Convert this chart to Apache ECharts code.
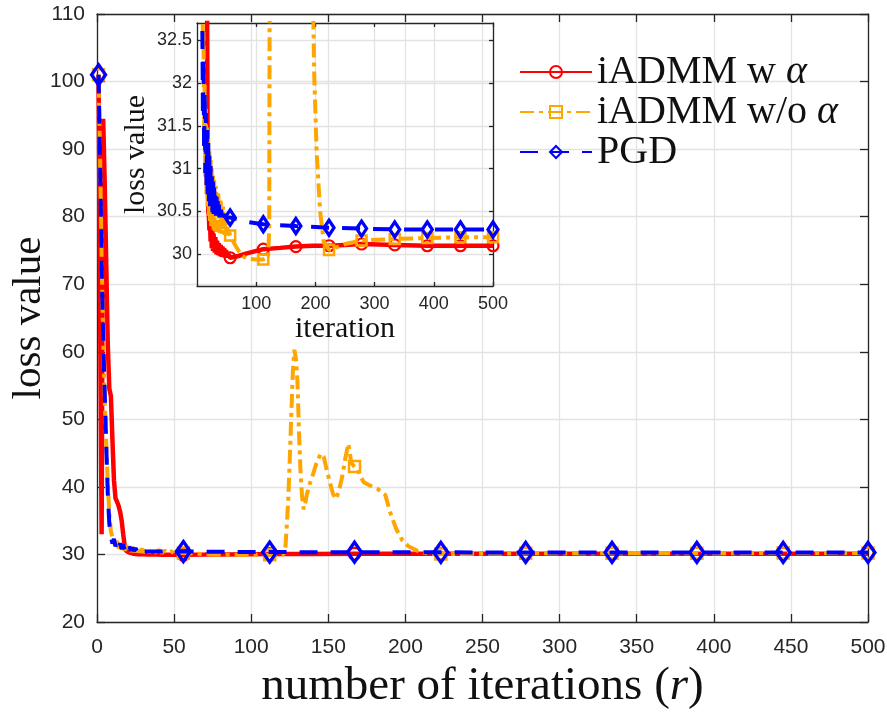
<!DOCTYPE html>
<html>
<head>
<meta charset="UTF-8">
<title>loss curves</title>
<script src="https://cdn.jsdelivr.net/npm/echarts@6/dist/echarts.min.js"></script>
<style>
  html, body { margin: 0; padding: 0; background: #fff; }
  #chart { width: 887px; height: 714px; }
</style>
</head>
<body>
<div id="chart"></div>
<script>
// values, [iteration, loss value]
var markIters = [1, 56, 112, 167, 223, 278, 334, 389, 445, 500];

var withAlpha = [
  [1,101],[3,33],[4,94.5],[5,85],[6,73],[7,61],[8,54.5],[9,53.5],[10,47],[11,41],
  [12,38.3],[13,37.8],[14,37.2],[15,36.3],[16,35],[17,33],[18,31.2],[19,30.5],
  [20,30.45],[21,30.28],[22,30.4],[23,30.15],[24,30.33],[25,30.07],[26,30.28],[27,30.04],
  [28,30.24],[30,30.02],[31,30.2],[33,30.0],[34,30.16],[36,29.99],[37,30.13],[39,29.98],
  [40,30.11],[42,29.97],[43,30.09],[45,29.97],[46,30.07],[48,29.96],[49,30.05],[51,29.96],
  [52,30.02],[56,29.96],[70,29.98],[84,30.01],[112,30.06],[140,30.075],[167,30.09],
  [195,30.1],[223,30.1],[250,30.11],[278,30.12],[334,30.11],[389,30.1],[445,30.1],[500,30.1]
];

var withoutAlpha = [
  [1,101],[2,89],[3,74],[4,62],[5,53],[6,46.5],[7,40.5],[8,36],[9,33.5],[10,32.4],
  [11,32.6],[12,31.3],[13,32.0],[14,30.9],[15,31.7],[16,30.7],[17,31.5],[18,30.55],
  [19,31.35],[20,30.45],[21,31.2],[22,30.38],[23,31.1],[24,30.33],[25,31.0],[26,30.3],
  [27,30.93],[28,30.28],[29,30.87],[30,30.27],[32,30.8],[34,30.26],[36,30.73],[38,30.25],
  [40,30.65],[42,30.24],[44,30.56],[46,30.23],[48,30.45],[50,30.22],[52,30.32],[56,30.22],
  [65,30.1],[75,29.99],[84,29.95],[100,29.94],[112,29.94],[120,29.96],
  [122,30.3],[123,34],[124,38],[125,44],[126,50.7],[127,57],[128,60.3],[129,59],[130,55.6],
  [131,48],[132,42.2],[133,38.5],[134,36.7],[135,37.5],[136,38.8],[138,40.5],[140,41.8],
  [142,43.3],[145,44.9],[147,44.5],[149,42.5],[151,40.7],[153,39],[155,38.2],[157,39.5],
  [159,41.5],[161,44.2],[163,46.4],[165,43.5],[167,43],[169,42.7],[171,41.5],[173,40.7],
  [177,40.2],[182,39.7],[187,38.8],[190,36.3],[194,33.8],[198,32.1],[202,31.2],[208,30.5],
  [214,30.15],[223,30.05],[250,30.12],[278,30.16],[334,30.18],[389,30.19],[445,30.2],[500,30.2]
];

var pgd = [
  [1,101],[2,88],[3,73],[4,62],[5,54],[6,46],[7,39],[8,34.5],[9,32.7],[10,31.6],
  [11,32.3],[12,31.2],[13,31.9],[14,30.95],[15,31.65],[16,30.8],[17,31.45],[18,30.7],
  [19,31.3],[20,30.62],[21,31.15],[22,30.56],[23,31.03],[24,30.52],[25,30.93],[26,30.49],
  [27,30.85],[28,30.47],[29,30.78],[30,30.46],[31,30.72],[32,30.45],[33,30.67],[34,30.44],
  [35,30.62],[36,30.44],[37,30.58],[38,30.43],[39,30.55],[40,30.43],[41,30.52],[42,30.43],
  [44,30.5],[46,30.43],[48,30.47],[50,30.43],[52,30.45],[56,30.43],[84,30.38],[112,30.35],
  [140,30.34],[167,30.33],[223,30.31],[278,30.3],[334,30.29],[389,30.29],[445,30.29],[500,30.29]
];

var mainYTicks = [20, 110, 10];     // min, max, step
var mainXTicks = [0, 500, 50];
var insetYTicks = [30, 30.5, 31, 31.5, 32, 32.5];
var insetXTicks = [100, 200, 300, 400, 500];

var names = ['iADMM w α', 'iADMM w/o α', 'PGD'];
var colors = ['#ff0000', '#ffa500', '#0000ff'];

var serif = '"Liberation Serif", "DejaVu Serif", serif';
var sans = '"Liberation Sans", Arial, sans-serif';
var axisCol = '#262626';
var gridCol = '#e3e3e3';

function withMarks(pts) {
  return pts.map(function (p) {
    return markIters.indexOf(p[0]) >= 0 ? { value: p } : { value: p, symbol: 'none' };
  });
}

var chart = echarts.init(document.getElementById('chart'));

function frameAxis(grid, pos, min, max, interval, len, custom) {
  var a = {
    gridIndex: grid, type: 'value', position: pos, min: min, max: max,
    axisLine: { show: true, onZero: false, lineStyle: { color: axisCol, width: 1.3 } },
    axisTick: { show: true, inside: true, length: len, lineStyle: { color: axisCol, width: 1.3 } },
    axisLabel: { show: false },
    splitLine: { show: false }
  };
  if (interval) a.interval = interval;
  if (custom) a.axisTick.customValues = custom;
  return a;
}

var xMain = frameAxis(0, 'bottom', mainXTicks[0], mainXTicks[1], mainXTicks[2], 8);
xMain.axisLabel = { show: true, color: axisCol, fontFamily: sans, fontSize: 21, margin: 15 };
xMain.splitLine = { show: true, lineStyle: { color: gridCol, width: 1.3 } };
xMain.name = 'number of iterations ({i|r})';
xMain.nameLocation = 'middle';
xMain.nameGap = 41;
xMain.nameTextStyle = { fontFamily: serif, fontSize: 47, color: '#111',
  rich: { i: { fontFamily: serif, fontSize: 47, fontStyle: 'italic', color: '#111' } } };

var yMain = frameAxis(0, 'left', mainYTicks[0], mainYTicks[1], mainYTicks[2], 8);
yMain.axisLabel = { show: true, color: axisCol, fontFamily: sans, fontSize: 21, margin: 12 };
yMain.splitLine = { show: true, lineStyle: { color: gridCol, width: 1.3 } };
yMain.name = 'loss value';
yMain.nameLocation = 'middle';
yMain.nameGap = 47;
yMain.nameMoveOverlap = false;
yMain.nameTextStyle = { fontFamily: serif, fontSize: 41, color: '#111' };

var xInset = frameAxis(1, 'bottom', 0, 500, 100, 4, insetXTicks);
xInset.axisLabel = { show: true, customValues: insetXTicks, color: axisCol, fontFamily: sans, fontSize: 18, margin: 9 };
xInset.splitLine = { show: true, lineStyle: { color: gridCol, width: 1.3 } };
xInset.name = 'iteration';
xInset.nameLocation = 'middle';
xInset.nameGap = 26;
xInset.nameTextStyle = { fontFamily: serif, fontSize: 30, color: '#111' };

var yInset = frameAxis(1, 'left', 29.63, 32.7, null, 4, insetYTicks);
yInset.axisLabel = { show: true, customValues: insetYTicks, color: axisCol, fontFamily: sans, fontSize: 18, margin: 5 };
yInset.splitLine = { show: true, lineStyle: { color: gridCol, width: 1.3 } };
yInset.name = 'loss value';
yInset.nameLocation = 'middle';
yInset.nameGap = 46;
yInset.nameTextStyle = { fontFamily: serif, fontSize: 30, color: '#111' };

var styles = [
  { symbol: 'circle', size: 12, border: 2.2, line: 'solid', width: 4.5 },
  { symbol: 'rect', size: 11, border: 2.5, line: [14, 5, 4, 5], width: 4 },
  { symbol: 'diamond', size: [14, 20], border: 3.4, line: [18, 13], width: 4 }
];
var insetSize = [11, 10, [10, 15]];
var sets = [withAlpha, withoutAlpha, pgd];

var series = [];
[0, 1].forEach(function (g) {
  sets.forEach(function (d, k) {
    var st = styles[k];
    series.push({
      name: names[k],
      type: 'line',
      xAxisIndex: g === 0 ? 0 : 2,
      yAxisIndex: g === 0 ? 0 : 2,
      data: withMarks(d),
      symbol: st.symbol,
      symbolSize: g === 0 ? st.size : insetSize[k],
      showAllSymbol: true,
      clip: true,
      silent: true,
      lineStyle: { color: colors[k], width: st.width, type: st.line, cap: 'butt' },
      itemStyle: { color: 'rgba(255,255,255,0)', borderColor: colors[k], borderWidth: st.border },
      emphasis: { disabled: true },
      z: 3 + k
    });
  });
});

chart.setOption({
  animation: false,
  backgroundColor: '#fff',
  grid: [
    { left: 97, right: 19, top: 14, bottom: 92, outerBoundsMode: 'none' },
    { left: 197, top: 23, width: 296, height: 263, outerBoundsMode: 'none' }
  ],
  legend: {
    data: names,
    orient: 'vertical',
    left: 519,
    top: 52,
    padding: 0,
    itemWidth: 72,
    itemHeight: 15,
    itemGap: 0,
    selectedMode: false,
    formatter: function (n) { return n.replace('α', '{i|α}'); },
    textStyle: { fontFamily: serif, fontSize: 40, color: '#111', lineHeight: 37,
      rich: { i: { fontFamily: serif, fontSize: 40, fontStyle: 'italic', color: '#111', lineHeight: 37 } } }
  },
  xAxis: [
    xMain,
    frameAxis(0, 'top', mainXTicks[0], mainXTicks[1], mainXTicks[2], 8),
    xInset,
    frameAxis(1, 'top', 0, 500, 100, 4, insetXTicks)
  ],
  yAxis: [
    yMain,
    frameAxis(0, 'right', mainYTicks[0], mainYTicks[1], mainYTicks[2], 8),
    yInset,
    frameAxis(1, 'right', 29.63, 32.7, null, 4, insetYTicks)
  ],
  series: series
});
</script>
</body>
</html>
